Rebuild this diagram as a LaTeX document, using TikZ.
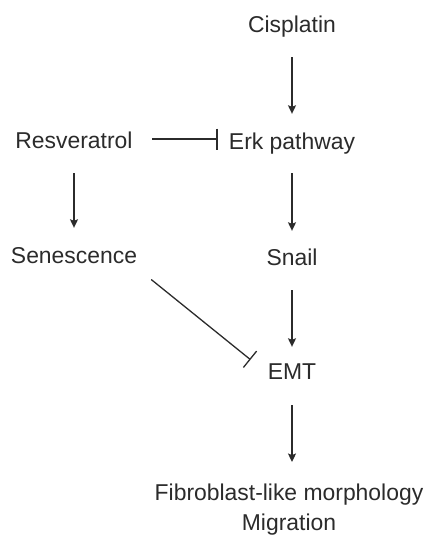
\documentclass[tikz,border=0pt]{standalone}
\usepackage{fontspec}
\setmainfont{Liberation Sans}
\usepackage{xcolor}
\usetikzlibrary{arrows.meta}
\usetikzlibrary{positioning}
\definecolor{inkgray}{rgb}{0.17,0.17,0.17}
\tikzset{%
  lbl/.style={text=inkgray,font=\fontsize{22.9}{30}\selectfont,inner sep=0pt,text height=16pt,text depth=5pt,anchor=base},
  outcome/.style={text=inkgray,font=\fontsize{22.9}{30}\selectfont,inner sep=0pt,align=center,anchor=north}
}
\tikzset{%
  promote/.style={draw=inkgray,line width=1.3pt,-{Stealth[length=8.5pt,width=8pt,inset=1.5pt]}},
  inhibit/.style={draw=inkgray,line width=1.3pt,-{Bar[width=21pt]}}
}

\begin{document}
\begin{tikzpicture}[x=1pt,y=-1pt]
            \useasboundingbox (0,0) rectangle (426,539);
            \node[lbl](cis) at (292,32) {Cisplatin};
            \node[lbl](erk) at (292,149) {Erk pathway};
            \node[lbl](res) at (74,148) {Resveratrol};
            \node[lbl](sen) at (74,263) {Senescence};
            \node[lbl](snail) at (292,265) {Snail};
            \node[lbl](emt) at (292,379) {EMT};
            \node[outcome](fib) at (289,483.5) {Fibroblast-like morphology\\Migration};

            \coordinate (resout) at ([yshift=3.5pt]res.east);

            \draw[promote,shorten <=20pt,shorten >=19pt] (cis.south) -- (erk.north);
            \draw[inhibit,shorten <=19.5pt,shorten >=11pt] (resout) -- (resout -| erk.west);
            \draw[promote,shorten <=20pt,shorten >=19pt] (res.south) -- (sen.north);
            \draw[promote,shorten <=19pt,shorten >=18pt] (erk.south) -- (snail.north);
            \draw[promote,shorten <=20pt,shorten >=16pt] (snail.south) -- (emt.north);
            \draw[inhibit,shorten <=18pt,shorten >=22pt] (sen.south east) -- (emt.west);
            \draw[promote,shorten <=21pt,shorten >=21.5pt] (emt.south) -- (emt.south |- fib.north);
        \end{tikzpicture}
\end{document}
